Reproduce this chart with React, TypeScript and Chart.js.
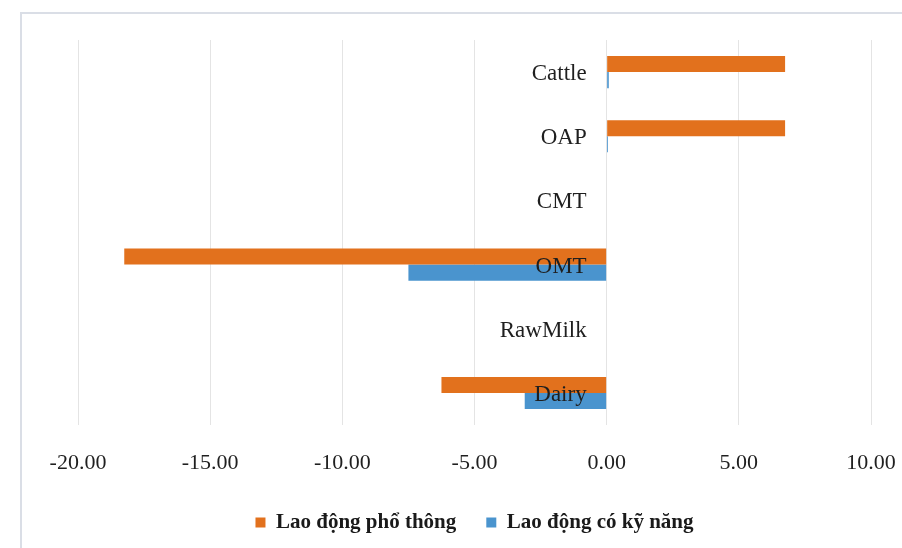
import React, { useEffect, useRef } from 'react';
import { Chart, registerables } from 'chart.js';

Chart.register(...registerables);

const categories = ['Cattle', 'OAP', 'CMT', 'OMT', 'RawMilk', 'Dairy'];
const seriesNames = ['Lao động phổ thông', 'Lao động có kỹ năng'];
const laoDongPhoThong = [6.75, 6.75, 0, -18.25, 0, -6.25];
const laoDongCoKyNang = [0.08, 0.05, 0, -7.5, 0, -3.1];
const xTickValues = [-20, -15, -10, -5, 0, 5, 10];

const ORANGE = '#E2711D';
const BLUE = '#4A94CE';
const SERIF = '"Liberation Serif", "Times New Roman", serif';

const categoryLabelPlugin = {
  id: 'categoryLabels',
  afterDatasetsDraw(chart: any) {
    const { ctx, scales } = chart;
    const x0 = scales.x.getPixelForValue(0);
    ctx.save();
    ctx.font = `23px ${SERIF}`;
    ctx.fillStyle = '#1f1f1f';
    ctx.textAlign = 'right';
    ctx.textBaseline = 'alphabetic';
    categories.forEach((c, i) => {
      const y = scales.y.getPixelForValue(i);
      ctx.fillText(c, x0 - 20, y + 8);
    });
    ctx.restore();
  },
};

export default function App() {
  const ref = useRef<HTMLCanvasElement | null>(null);

  useEffect(() => {
    if (!ref.current) return;
    const chart = new Chart(ref.current, {
      type: 'bar',
      data: {
        labels: categories,
        datasets: [
          {
            label: seriesNames[0],
            data: laoDongPhoThong,
            backgroundColor: ORANGE,
            borderWidth: 0,
            categoryPercentage: 0.5,
            barPercentage: 1.0,
          },
          {
            label: seriesNames[1],
            data: laoDongCoKyNang,
            backgroundColor: BLUE,
            borderWidth: 0,
            categoryPercentage: 0.5,
            barPercentage: 1.0,
          },
        ],
      },
      options: {
        indexAxis: 'y',
        animation: false,
        responsive: false,
        maintainAspectRatio: false,
        layout: { padding: { left: 78, right: 31, top: 40, bottom: 5 } },
        scales: {
          x: {
            min: -20,
            max: 10,
            afterBuildTicks: (s: any) => {
              s.ticks = xTickValues.map((v) => ({ value: v }));
            },
            afterFit: (s: any) => {
              s.height = 57;
              s.paddingLeft = 0;
              s.paddingRight = 0;
            },
            ticks: {
              padding: 25,
              color: '#1f1f1f',
              font: { family: SERIF, size: 22 },
              callback: (v: any) => Number(v).toFixed(2),
              maxRotation: 0,
              autoSkip: false,
            },
            grid: { color: '#e4e4e4', lineWidth: 1, drawTicks: false },
            border: { display: false },
          },
          y: {
            display: false,
            grid: { display: false },
          },
        },
        plugins: {
          legend: {
            position: 'bottom',
            labels: {
              boxWidth: 10,
              boxHeight: 10,
              padding: 30,
              color: '#1a1a1a',
              font: { family: SERIF, size: 21, weight: 'bold' },
            },
          },
          tooltip: { enabled: false },
        },
      },
      plugins: [categoryLabelPlugin],
    });
    return () => chart.destroy();
  }, []);

  return (
    <div
      style={{
        position: 'fixed',
        left: 0,
        top: 0,
        width: 902,
        height: 548,
        overflow: 'hidden',
        background: '#ffffff',
      }}
    >
      <div
        style={{
          position: 'absolute',
          left: 20,
          top: 12,
          width: 1000,
          height: 1000,
          border: '2px solid #dadee6',
          boxSizing: 'border-box',
        }}
      />
      <canvas
        ref={ref}
        width={902}
        height={548}
        style={{ position: 'absolute', left: 0, top: 0, width: 902, height: 548 }}
      />
    </div>
  );
}
